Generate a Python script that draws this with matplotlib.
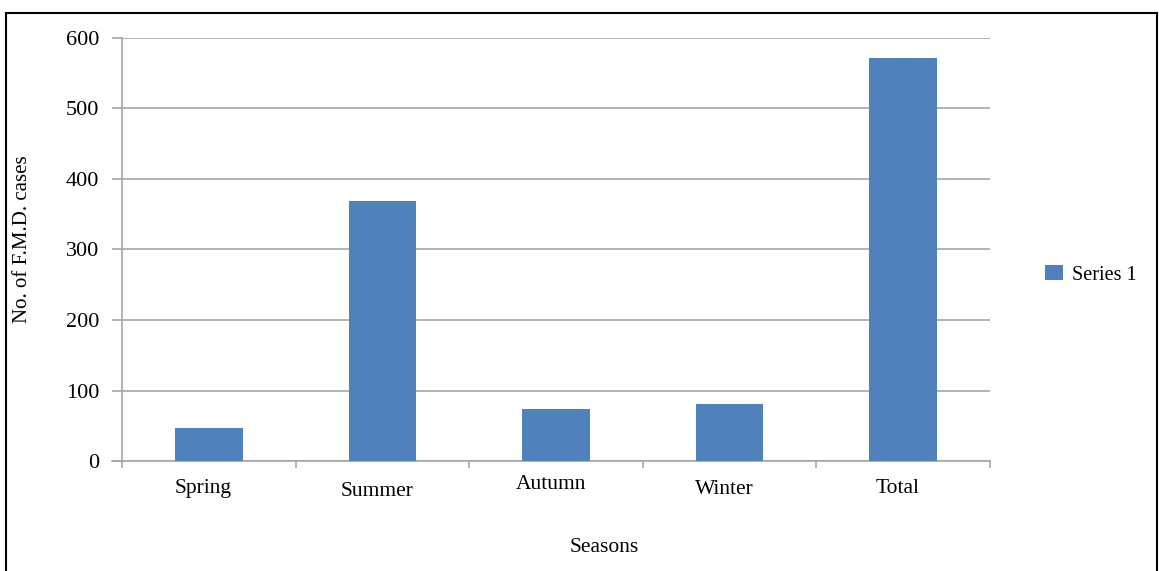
import matplotlib.pyplot as plt
from matplotlib.patches import Rectangle
import numpy as np

# seasonal F.M.D. case counts
seasons = ["Spring", "Summer", "Autumn", "Winter", "Total"]
cases = [47, 369, 74, 81, 571]
y_ticks = [0, 100, 200, 300, 400, 500, 600]
series_name = "Series 1"

# small vertical shifts of the category labels (points below the axis)
label_drop = [19.5, 22.3, 16.6, 20.2, 19.5]

plt.rcParams['font.family'] = ['Liberation Serif', 'DejaVu Serif']

bar_color = "#4F81BD"
grid_color = "#A6A6A6"

fig = plt.figure(figsize=(11.59, 5.71), dpi=100)
ax = fig.add_axes([122 / 1159, 110 / 571, 868 / 1159, 423 / 571])

x = np.arange(len(seasons))
bars = ax.bar(x, cases, width=0.39, color=bar_color, label=series_name, zorder=3)

ax.set_xlim(-0.5, len(seasons) - 0.5)
ax.set_ylim(0, 600)
ax.set_yticks(y_ticks)
ax.set_yticklabels([str(v) for v in y_ticks], fontsize=16)
ax.yaxis.grid(True, color=grid_color, linewidth=1.2, zorder=0)

# x ticks sit on the category boundaries, labels drawn separately
ax.set_xticks(np.arange(-0.5, len(seasons), 1.0))
ax.set_xticklabels([])
for i, name in enumerate(seasons):
    ax.annotate(name, xy=(i - 0.03, 0), xycoords=("data", "axes fraction"),
                xytext=(0, -label_drop[i]), textcoords="offset points",
                ha="center", va="center", fontsize=15.5)

ax.tick_params(axis="x", length=5, width=1.2, color=grid_color)
ax.tick_params(axis="y", length=7.2, width=1.2, color=grid_color, pad=9)

for side in ["top", "right"]:
    ax.spines[side].set_visible(False)
for side in ["left", "bottom"]:
    ax.spines[side].set_color(grid_color)
    ax.spines[side].set_linewidth(1.2)
ax.spines["bottom"].set_bounds(-0.5 - 10 / 173.6, len(seasons) - 0.5)

fig.text(604 / 1159, (571 - 548) / 571, "Seasons", ha="center", va="center", fontsize=15.5)
fig.text(23 / 1159, (571 - 239) / 571, "No. of F.M.D. cases", rotation=90,
         ha="center", va="center", fontsize=15)

leg = ax.legend(loc="center left", bbox_to_anchor=(1027 / 1159, (571 - 275) / 571),
                bbox_transform=fig.transFigure, frameon=False, fontsize=14.5,
                handlelength=0.9, handleheight=0.7, handletextpad=0.45)

# outer frame around the whole chart
fig.patches.append(Rectangle((6 / 1159, -0.02), 1151 / 1159, (571 - 13) / 571 + 0.02,
                             transform=fig.transFigure, fill=False,
                             edgecolor="black", linewidth=1.5))

fig.savefig("out.png", dpi=100)
